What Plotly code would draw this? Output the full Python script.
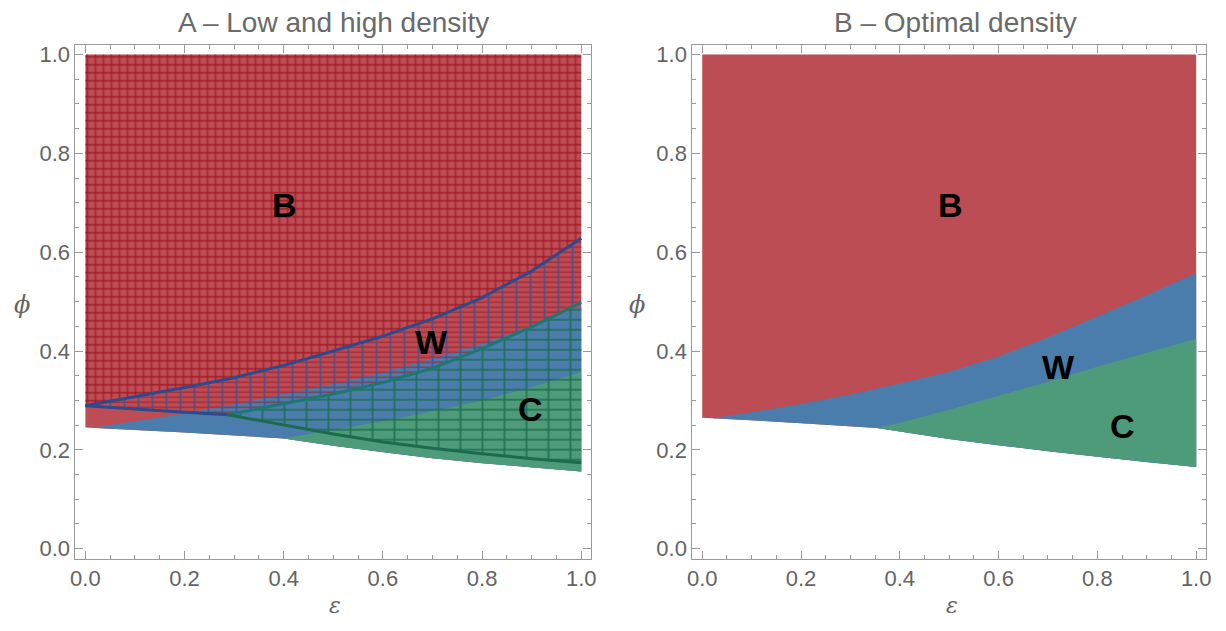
import numpy as np
import plotly.graph_objects as go

# ---------------- data ----------------
tick_vals = [0.0, 0.2, 0.4, 0.6, 0.8, 1.0]
tick_text = ["0.0", "0.2", "0.4", "0.6", "0.8", "1.0"]

# Panel A, solid layer (low density)
A_rb_eps = [0.01, 0.1, 0.2, 0.3, 0.4, 0.5, 0.6, 0.7, 0.8, 0.9, 1.0]
A_rb_phi = [0.244, 0.257, 0.273, 0.292, 0.312, 0.333, 0.357, 0.385, 0.415, 0.45, 0.49]
A_bg_eps = [0.40, 0.5, 0.6, 0.7, 0.8, 0.9, 1.0]
A_bg_phi = [0.223, 0.24, 0.258, 0.278, 0.30, 0.327, 0.357]
A_bot_eps = [0.0, 0.2, 0.4, 0.5, 0.6, 0.7, 0.8, 0.9, 1.0]
A_bot_phi = [0.245, 0.235, 0.223, 0.208, 0.195, 0.183, 0.173, 0.164, 0.156]

# Panel A, meshed layer (high density)
A_up_eps = [0.0, 0.1, 0.2, 0.3, 0.4, 0.5, 0.6, 0.7, 0.8, 0.9, 1.0]
A_up_phi = [0.289, 0.307, 0.326, 0.346, 0.371, 0.400, 0.430, 0.465, 0.508, 0.562, 0.628]
A_wl_eps = [0.0, 0.1, 0.2, 0.287]
A_wl_phi = [0.289, 0.282, 0.276, 0.271]
A_mid_eps = [0.287, 0.4, 0.5, 0.6, 0.7, 0.8, 0.9, 1.0]
A_mid_phi = [0.271, 0.293, 0.313, 0.336, 0.365, 0.405, 0.449, 0.498]
A_low_eps = [0.287, 0.4, 0.5, 0.6, 0.7, 0.8, 0.9, 1.0]
A_low_phi = [0.271, 0.25, 0.232, 0.216, 0.203, 0.192, 0.182, 0.174]

# Panel B (optimal density)
B_rb_eps = [0.02, 0.1, 0.2, 0.3, 0.4, 0.5, 0.6, 0.7, 0.8, 0.9, 1.0]
B_rb_phi = [0.264, 0.276, 0.293, 0.312, 0.334, 0.358, 0.389, 0.428, 0.47, 0.513, 0.558]
B_bg_eps = [0.354, 0.4, 0.5, 0.6, 0.7, 0.8, 0.9, 1.0]
B_bg_phi = [0.244, 0.255, 0.281, 0.309, 0.338, 0.368, 0.397, 0.425]
B_bot_eps = [0.0, 0.1, 0.2, 0.354, 0.5, 0.6, 0.7, 0.8, 0.9, 1.0]
B_bot_phi = [0.265, 0.26, 0.254, 0.244, 0.222, 0.209, 0.197, 0.186, 0.175, 0.165]

region_names = ["B", "W", "C"]
A_label_eps = [0.402, 0.698, 0.898]
A_label_phi = [0.695, 0.418, 0.283]
B_label_eps = [0.502, 0.721, 0.851]
B_label_phi = [0.695, 0.367, 0.249]

titles = ["A \u2013 Low and high density", "B \u2013 Optimal density"]

# ---------------- styles ----------------
RED = "#BD4D54"
BLUE = "#4A7DAB"
GREEN = "#4D9B7B"
TXT = "#646464"
FRAME = "#9a9a9a"
FONT = "Liberation Sans, Arial, sans-serif"


def band(top_x, top_y, bot_x, bot_y):
    """Closed polygon: along the top curve, back along the bottom curve."""
    lo, hi = top_x[0], top_x[-1]
    bx = [lo] + [v for v in bot_x if lo < v < hi] + [hi]
    by = list(np.interp(bx, bot_x, bot_y))
    return list(top_x) + bx[::-1], list(top_y) + by[::-1]


fig = go.Figure()


def solid(x, y, color, xa, ya):
    fig.add_trace(go.Scatter(x=x, y=y, fill="toself", fillcolor=color, mode="lines",
                             line=dict(width=0, color=color), hoverinfo="skip",
                             showlegend=False, xaxis=xa, yaxis=ya))


def mesh(x, y, shape, size, sol, color, xa, ya, op=0.85):
    fig.add_trace(go.Scatter(x=x, y=y, fill="toself", fillcolor="rgba(0,0,0,0)",
                             mode="lines", line=dict(width=0),
                             fillpattern=dict(shape=shape, size=size, solidity=sol,
                                              fgcolor=color, bgcolor="rgba(0,0,0,0)",
                                              fgopacity=op),
                             hoverinfo="skip", showlegend=False, xaxis=xa, yaxis=ya))


def stroke(x, y, color, xa, ya, w=3.0):
    fig.add_trace(go.Scatter(x=x, y=y, mode="lines", line=dict(color=color, width=w),
                             hoverinfo="skip", showlegend=False, xaxis=xa, yaxis=ya))


# ---- Panel A: solid layer ----
x, y = band([0.0, 1.0], [1.0, 1.0], A_bot_eps, A_bot_phi)
solid(x, y, RED, "x", "y")
x, y = band(A_rb_eps, A_rb_phi, A_bot_eps, A_bot_phi)
solid(x, y, BLUE, "x", "y")
x, y = band(A_bg_eps, A_bg_phi, A_bot_eps, A_bot_phi)
solid(x, y, GREEN, "x", "y")

# ---- Panel A: meshed layer ----
x, y = band([0.0, 1.0], [1.0, 1.0], A_up_eps, A_up_phi)
mesh(x, y, "+", 8, 0.32, "#9A0C18", "x", "y", 0.8)
w_bot_eps = A_wl_eps + A_mid_eps[1:]
w_bot_phi = A_wl_phi + A_mid_phi[1:]
x, y = band(A_up_eps, A_up_phi, w_bot_eps, w_bot_phi)
mesh(x, y, "-", 5, 0.3, "#A0202C", "x", "y", 0.75)
mesh(x, y, "|", 14, 0.11, "#2A55A0", "x", "y", 0.9)
x, y = band(A_mid_eps, A_mid_phi, A_low_eps, A_low_phi)
mesh(x, y, "-", 10, 0.16, "#1C6B4C", "x", "y", 0.9)
mesh(x, y, "|", 22, 0.075, "#1C6B4C", "x", "y", 0.9)

stroke(A_up_eps, A_up_phi, "#2C4A8E", "x", "y")
stroke(A_wl_eps, A_wl_phi, "#2C4A8E", "x", "y")
stroke(A_mid_eps, A_mid_phi, "#1B7A70", "x", "y")
stroke(A_low_eps, A_low_phi, "#1C6B4C", "x", "y")

# ---- Panel B ----
x, y = band([0.0, 1.0], [1.0, 1.0], B_bot_eps, B_bot_phi)
solid(x, y, RED, "x2", "y2")
x, y = band(B_rb_eps, B_rb_phi, B_bot_eps, B_bot_phi)
solid(x, y, BLUE, "x2", "y2")
x, y = band(B_bg_eps, B_bg_phi, B_bot_eps, B_bot_phi)
solid(x, y, GREEN, "x2", "y2")

# ---------------- layout ----------------
# the page body has an 8px margin, so the figure is 16px smaller than the window
OFF = 8
W, H = 1226 - 2 * OFF, 631 - 2 * OFF


def px(v):
    return (v - OFF) / W


def py(v):
    return 1 - (v - OFF) / H


ydom = [py(561), py(43)]
xdomA = [px(71), px(591)]
xdomB = [px(693), px(1211)]

axis_common = dict(range=[-0.02, 1.02], tickvals=tick_vals, ticktext=tick_text,
                   ticks="inside", ticklen=8, tickwidth=1, tickcolor=FRAME,
                   showline=True, linecolor=FRAME, linewidth=1, mirror="allticks",
                   showgrid=False, zeroline=False,
                   minor=dict(dtick=0.05, tick0=0, ticks="inside", ticklen=4,
                              tickcolor=FRAME, showgrid=False),
                   tickfont=dict(family=FONT, size=22, color=TXT))

annotations = []
for xc, ttl in zip([331, 958], titles):
    annotations.append(dict(text=ttl, xref="paper", yref="paper", x=px(xc),
                            y=py(21), showarrow=False, xanchor="center", yanchor="middle",
                            font=dict(family=FONT, size=28, color="#6a6a6a")))
for xc in [333, 955]:
    annotations.append(dict(text="<i>\u03b5</i>", xref="paper", yref="paper",
                            x=px(xc), y=py(608), showarrow=False,
                            xanchor="center", yanchor="middle",
                            font=dict(family="DejaVu Serif, serif", size=22, color=TXT)))
for xc in [17, 637]:
    annotations.append(dict(text="<i>\u03d5</i>", xref="paper", yref="paper",
                            x=px(xc), y=py(305), showarrow=False,
                            xanchor="center", yanchor="middle",
                            font=dict(family="DejaVu Serif, serif", size=24, color=TXT)))

for xr, yr, ex, ph in [("x", "y", A_label_eps, A_label_phi), ("x2", "y2", B_label_eps, B_label_phi)]:
    for name, e, p in zip(region_names, ex, ph):
        annotations.append(dict(text="<b>%s</b>" % name, x=e, y=p, xref=xr, yref=yr,
                                showarrow=False,
                                font=dict(family=FONT, size=34, color="black")))

fig.update_layout(
    width=W, height=H, margin=dict(l=0, r=0, t=0, b=0),
    paper_bgcolor="white", plot_bgcolor="white",
    xaxis=dict(domain=xdomA, anchor="y", **axis_common),
    yaxis=dict(domain=ydom, anchor="x", **axis_common),
    xaxis2=dict(domain=xdomB, anchor="y2", **axis_common),
    yaxis2=dict(domain=ydom, anchor="x2", **axis_common),
    annotations=annotations,
)

fig.write_html("out.html")
